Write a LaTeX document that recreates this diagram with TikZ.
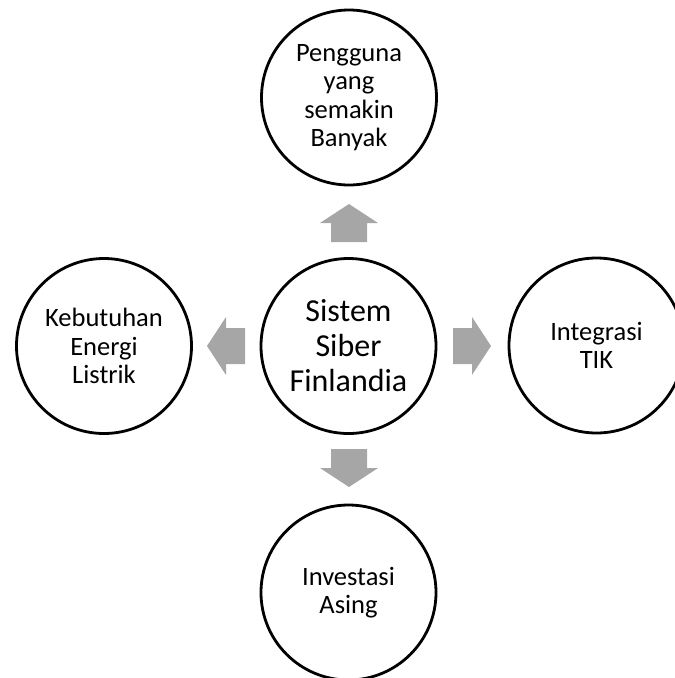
\documentclass[tikz,border=0pt]{standalone}
\usepackage{fontspec}
\setmainfont{Carlito}
\definecolor{arrowgray}{HTML}{A6A6A6}
\begin{document}
\begin{tikzpicture}[x=1pt,y=-1pt,
  bubble/.style={circle,draw=black,line width=2.8pt,minimum size=175pt,inner sep=0pt,align=center,
    font=\fontsize{26.5}{28.5}\selectfont},
  bigbubble/.style={bubble,font=\fontsize{32}{35}\selectfont},
  blockarrow/.style={fill=arrowgray},
  barrow/.pic={\fill[blockarrow] (0,-18) -- (19,-18) -- (19,-29) -- (38,0) -- (19,29) -- (19,18) -- (0,18) -- cycle;}
]
\useasboundingbox (0,0) rectangle (675,678);
\clip (0,0) rectangle (675,678);
\node[bigbubble] (center) at (348.5,346) {Sistem\\Siber\\Finlandia};
\node[bubble] (top) at (349,97.5) {Pengguna\\yang\\semakin\\Banyak};
\node[bubble] (left) at (104,346) {Kebutuhan\\Energi\\Listrik};
\node[bubble] (right) at (596.5,345.5) {Integrasi\\TIK};
\node[bubble] (bottom) at (348.5,592.5) {Investasi\\Asing};
\pic at (349,242) [rotate=90] {barrow};
\pic at (349,449) [rotate=-90] {barrow};
\pic at (245,346) [rotate=180] {barrow};
\pic at (453,346) {barrow};
\end{tikzpicture}
\end{document}
